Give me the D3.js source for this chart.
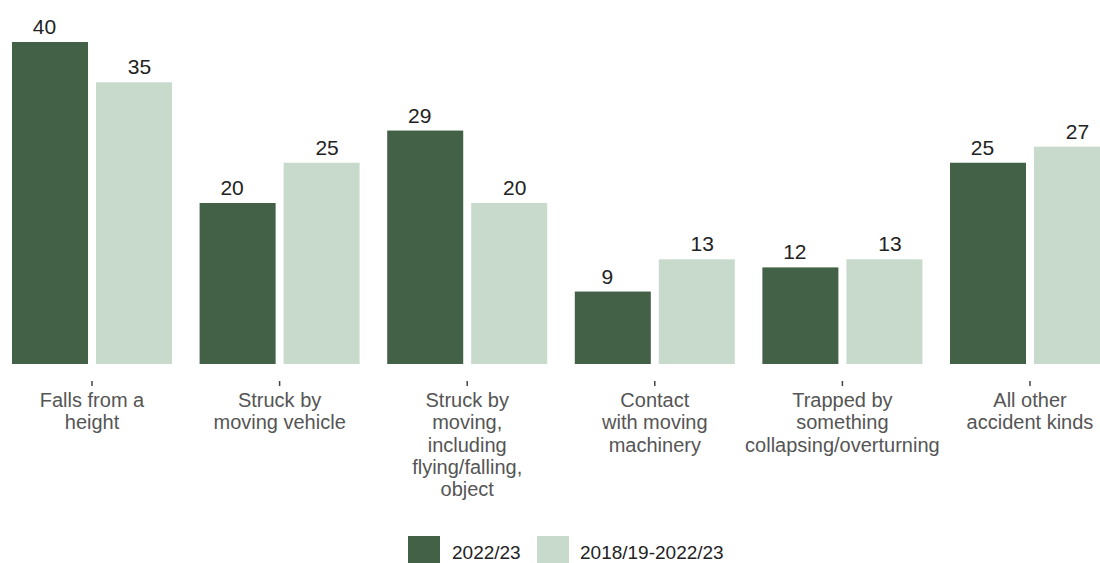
<!DOCTYPE html>
<html>
<head>
<meta charset="utf-8">
<script src="https://cdn.jsdelivr.net/npm/d3@7"></script>
<style>
  html, body { margin: 0; padding: 0; background: #fff; }
  svg { display: block; font-family: "Liberation Sans", Arial, sans-serif; }
</style>
</head>
<body>
<svg id="chart" width="1100" height="563"></svg>
<script>
const categories = [
  "Falls from a height",
  "Struck by moving vehicle",
  "Struck by moving, including flying/falling, object",
  "Contact with moving machinery",
  "Trapped by something collapsing/overturning",
  "All other accident kinds"
];
const tickLabelLines = [
  ["Falls from a", "height"],
  ["Struck by", "moving vehicle"],
  ["Struck by", "moving,", "including", "flying/falling,", "object"],
  ["Contact", "with moving", "machinery"],
  ["Trapped by", "something", "collapsing/overturning"],
  ["All other", "accident kinds"]
];
const seriesNames = ["2022/23", "2018/19-2022/23"];
const values2022 = [40, 20, 29, 9, 12, 25];
const values5yr = [35, 25, 20, 13, 13, 27];
const seriesColors = ["#436146", "#c8dacc"];

const svg = d3.select("#chart");
const baseY = 364;

const x0 = d3.scaleBand()
  .domain(categories)
  .range([0, 1122])
  .paddingInner(0.147)
  .paddingOuter(0.064);

const x1 = d3.scaleBand()
  .domain(seriesNames)
  .range([0, x0.bandwidth()])
  .paddingInner(0.095)
  .paddingOuter(0);

// value labels are dodged slightly wider than the bars
const xLab = d3.scaleBand()
  .domain(seriesNames)
  .range([-15, x0.bandwidth() + 15])
  .padding(0);

const y = d3.scaleLinear().domain([0, 40]).range([baseY, 42]);
const color = d3.scaleOrdinal().domain(seriesNames).range(seriesColors);

const rows = categories.map((c, i) => ({
  cat: c,
  vals: [
    { s: seriesNames[0], v: values2022[i] },
    { s: seriesNames[1], v: values5yr[i] }
  ]
}));

const g = svg.append("g")
  .selectAll("g")
  .data(rows)
  .join("g")
  .attr("transform", d => `translate(${x0(d.cat)},0)`);

g.selectAll("rect")
  .data(d => d.vals)
  .join("rect")
  .attr("x", d => x1(d.s))
  .attr("y", d => y(d.v))
  .attr("width", x1.bandwidth())
  .attr("height", d => y(0) - y(d.v))
  .attr("fill", d => color(d.s));

g.selectAll("text.val")
  .data(d => d.vals)
  .join("text")
  .attr("class", "val")
  .attr("x", d => xLab(d.s) + xLab.bandwidth() / 2)
  .attr("y", d => y(d.v) - 8)
  .attr("text-anchor", "middle")
  .attr("font-size", 21)
  .attr("fill", "#222")
  .text(d => d.v);

// x axis
const axis = svg.append("g")
  .attr("transform", "translate(0,381)")
  .call(d3.axisBottom(x0).tickSize(5).tickSizeOuter(0).tickFormat(""));
axis.select(".domain").remove();
axis.selectAll(".tick line").attr("stroke", "#444").attr("stroke-width", 1.5);

axis.selectAll(".tick").each(function(d, i) {
  const t = d3.select(this).append("text")
    .attr("text-anchor", "middle")
    .attr("fill", "#555")
    .attr("font-size", 20)
    .attr("y", 26);
  tickLabelLines[i].forEach((line, j) => {
    t.append("tspan").attr("x", 0).attr("y", 26 + j * 22.3).text(line);
  });
});

// legend
const legendItems = [
  { s: seriesNames[0], x: 408, tx: 452 },
  { s: seriesNames[1], x: 537, tx: 580 }
];
const lg = svg.append("g");
legendItems.forEach(it => {
  lg.append("rect")
    .attr("x", it.x).attr("y", 536)
    .attr("width", 32).attr("height", 32)
    .attr("fill", color(it.s));
  lg.append("text")
    .attr("x", it.tx).attr("y", 559)
    .attr("font-size", 19)
    .attr("fill", "#222")
    .text(it.s);
});
</script>
</body>
</html>
